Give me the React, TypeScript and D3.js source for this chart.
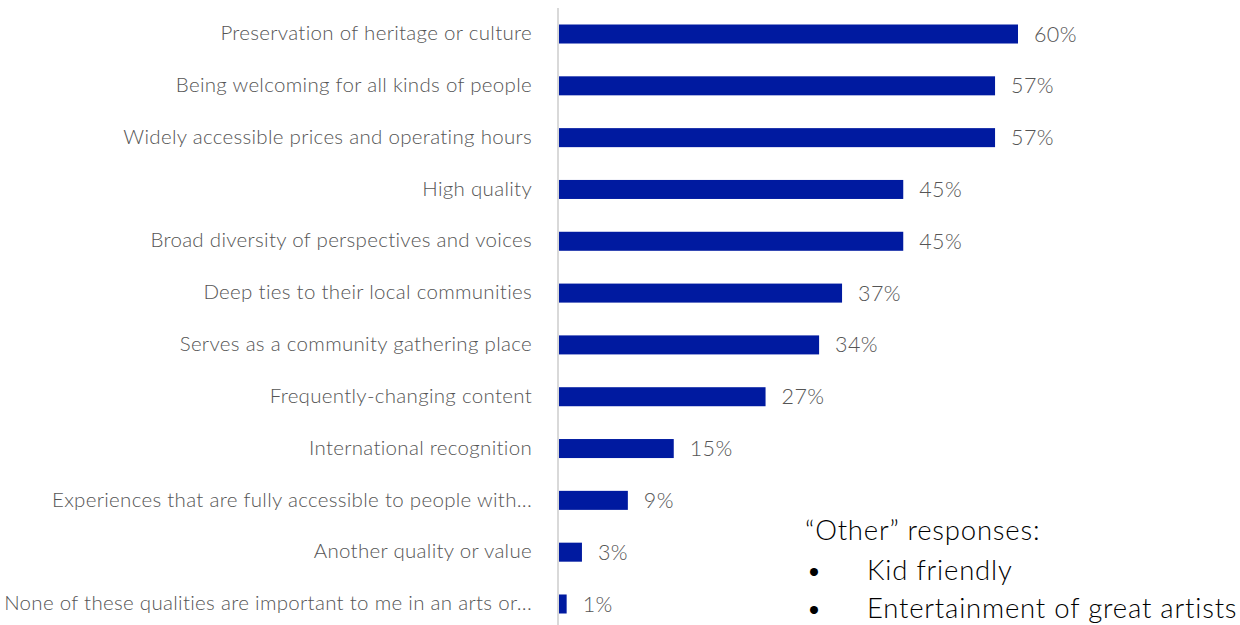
import React from "react";
import * as d3 from "d3";

const categories = [
  "Preservation of heritage or culture",
  "Being welcoming for all kinds of people",
  "Widely accessible prices and operating hours",
  "High quality",
  "Broad diversity of perspectives and voices",
  "Deep ties to their local communities",
  "Serves as a community gathering place",
  "Frequently-changing content",
  "International recognition",
  "Experiences that are fully accessible to people with...",
  "Another quality or value",
  "None of these qualities are important to me in an arts or...",
];
const values = [60, 57, 57, 45, 45, 37, 34, 27, 15, 9, 3, 1];
const otherTitle = "\u201COther\u201D responses:";
const otherItems = ["Kid friendly", "Entertainment of great artists"];

const W = 1240;
const H = 625;
const FONT = "'Lato', 'Open Sans', sans-serif";

export default function App() {
  const x = d3.scaleLinear().domain([0, 60]).range([559, 1018]);
  const y = d3
    .scaleBand<string>()
    .domain(categories)
    .range([8.1, 629.9])
    .paddingInner(0.633)
    .paddingOuter(0.3165);
  const bw = y.bandwidth();
  return (
    <svg
      width={W}
      height={H}
      style={{ position: "absolute", left: 0, top: 0, background: "#fff" }}
    >
      <line x1={558} x2={558} y1={8} y2={H} stroke="#d9d9d9" strokeWidth={2} />
      {categories.map((c, i) => {
        const yc = (y(c) as number) + bw / 2;
        return (
          <g key={c}>
            <text
              x={532}
              y={yc - 1}
              dy="0.35em"
              textAnchor="end"
              fontFamily={FONT}
              fontWeight={300}
              fontSize={20.5}
              letterSpacing={0.3}
              fill="#555555"
            >
              {c}
            </text>
            <rect
              x={x(0)}
              y={y(c)}
              width={x(values[i]) - x(0)}
              height={bw}
              fill="#001AA0"
            />
            <text
              x={x(values[i]) + 16}
              y={yc}
              dy="0.35em"
              fontFamily={FONT}
              fontWeight={300}
              fontSize={21.5}
              letterSpacing={0.4}
              fill="#555555"
            >
              {values[i]}%
            </text>
          </g>
        );
      })}
      <g fontFamily={FONT} fontWeight={300} fontSize={27.5} letterSpacing={0.8} fill="#000">
        <text x={805} y={540}>{otherTitle}</text>
        {otherItems.map((t, i) => (
          <g key={t}>
            <text x={806} y={580 + i * 38}>•</text>
            <text x={867} y={580 + i * 38}>{t}</text>
          </g>
        ))}
      </g>
    </svg>
  );
}
